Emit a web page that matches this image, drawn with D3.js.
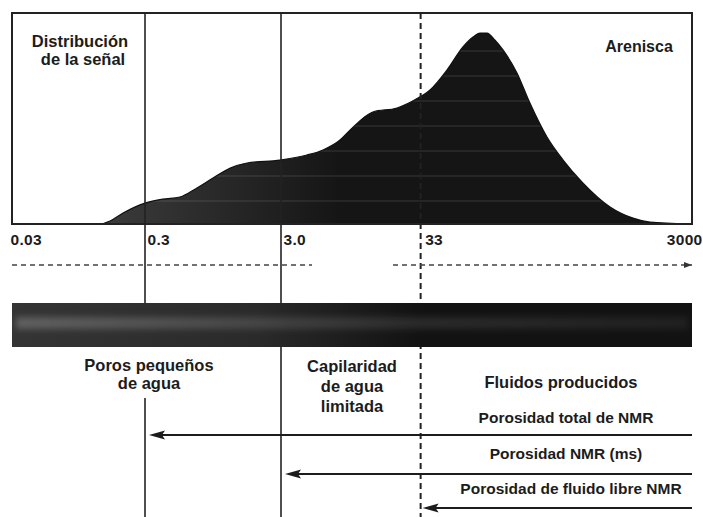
<!DOCTYPE html>
<html>
<head>
<meta charset="utf-8">
<script src="https://cdn.jsdelivr.net/npm/d3@7/dist/d3.min.js"></script>
<style>
  html, body { margin: 0; padding: 0; background: #fff; }
  svg { display: block; }
  text { font-family: "Liberation Sans", Arial, sans-serif; fill: #1c1c1c; }
</style>
</head>
<body>
<svg id="chart" width="703" height="517"></svg>
<script>
// T2 relaxation time (ms) and relative signal amplitude of the sandstone distribution
const t2Times = [0.145, 0.166, 0.207, 0.3, 0.407, 0.542, 0.723, 0.949, 1.27, 1.69, 2.95, 4.66, 6.11, 8.15, 9.65,
                 14.2, 21.4, 30.5, 37.4, 49.9, 65.3, 77.5, 87.1, 98.2, 112, 128.6, 163, 203, 271, 356, 499, 788, 1162, 1549, 3000];
const amplitudes = [0, 1.4, 5.2, 9.9, 11.8, 12.8, 17.1, 21.8, 26.5, 28.9, 30.3, 32.7, 35.1, 39.8, 44.5,
                    53.1, 55.0, 59.7, 63.5, 73.0, 83.9, 88.6, 90.5, 90.5, 87.2, 82.5, 71.6, 57.3, 41.2, 30.3, 19.4, 8.1, 2.8, 0.9, 0];

// Axis ticks
const tickValues = [0.03, 0.3, 3, 33, 3000];
const tickLabels = ["0.03", "0.3", "3.0", "33", "3000"];

// Cut-off times separating the pore classes
const cutoffs = [0.3, 3, 33];

// Zone labels under the bar
const zoneLabels = [
  ["Poros pequeños", "de agua"],
  ["Capilaridad", "de agua", "limitada"],
  ["Fluidos producidos"]
];

// Porosity ranges: name and shortest T2 covered (each runs to the end of the scale)
const porosityNames = ["Porosidad total de NMR", "Porosidad NMR (ms)", "Porosidad de fluido libre NMR"];
const porosityStart = [0.3, 3, 33];

const svg = d3.select("#chart");
const frame = { left: 12, right: 692, top: 13, bottom: 224 };

const x = d3.scaleLog().domain([0.03, 3000]).range([9, 689]);
const y = d3.scaleLinear().domain([0, 100]).range([frame.bottom, frame.top]);

const defs = svg.append("defs");

// fill of the distribution: greyer at short times, near black toward the peak
const ag = defs.append("linearGradient").attr("id", "areaGrad")
  .attr("gradientUnits", "userSpaceOnUse").attr("x1", 100).attr("x2", 340).attr("y1", 0).attr("y2", 0);
ag.append("stop").attr("offset", 0).attr("stop-color", "#3c3c3c");
ag.append("stop").attr("offset", 1).attr("stop-color", "#151515");

// bar: grey on the left fading into black
const bg = defs.append("linearGradient").attr("id", "barGrad")
  .attr("gradientUnits", "userSpaceOnUse").attr("x1", 12).attr("x2", 420).attr("y1", 0).attr("y2", 0);
bg.append("stop").attr("offset", 0).attr("stop-color", "#343434");
bg.append("stop").attr("offset", 0.6).attr("stop-color", "#2a2a2a");
bg.append("stop").attr("offset", 1).attr("stop-color", "#121212");

const bandG = defs.append("linearGradient").attr("id", "bandGrad")
  .attr("gradientUnits", "userSpaceOnUse").attr("x1", 12).attr("x2", 692).attr("y1", 0).attr("y2", 0);
bandG.append("stop").attr("offset", 0).attr("stop-color", "#fff").attr("stop-opacity", 0.22);
bandG.append("stop").attr("offset", 0.4).attr("stop-color", "#fff").attr("stop-opacity", 0.12);
bandG.append("stop").attr("offset", 1).attr("stop-color", "#fff").attr("stop-opacity", 0.06);

defs.append("filter").attr("id", "soft").attr("x", "-5%").attr("y", "-100%").attr("width", "110%").attr("height", "300%")
  .append("feGaussianBlur").attr("stdDeviation", 3);

// faint scan-like horizontal streaks
const pat = defs.append("pattern").attr("id", "streaks").attr("patternUnits", "userSpaceOnUse")
  .attr("width", 8).attr("height", 25);
pat.append("rect").attr("x", 0).attr("y", 0).attr("width", 8).attr("height", 2)
  .attr("fill", "#fff").attr("opacity", 0.07);

const smallHead = defs.append("marker").attr("id", "smallHead").attr("viewBox", "0 0 8 6")
  .attr("refX", 8).attr("refY", 3).attr("markerWidth", 8).attr("markerHeight", 6)
  .attr("markerUnits", "userSpaceOnUse").attr("orient", "auto");
smallHead.append("path").attr("d", "M0,0 L8,3 L0,6 Z").attr("fill", "#333");

// distribution area
const pts = t2Times.map((t, i) => [t, amplitudes[i]]);
const area = d3.area().x(d => x(d[0])).y0(y(0)).y1(d => y(d[1])).curve(d3.curveMonotoneX);
svg.append("path").datum(pts).attr("d", area).attr("fill", "url(#areaGrad)");
svg.append("path").datum(pts).attr("d", area).attr("fill", "url(#streaks)");
svg.append("path").datum(pts).attr("d", d3.line().x(d => x(d[0])).y(d => y(d[1])).curve(d3.curveMonotoneX))
  .attr("fill", "none").attr("stroke", "#111").attr("stroke-width", 1.2);

// frame
svg.append("rect").attr("x", frame.left).attr("y", frame.top)
  .attr("width", frame.right - frame.left).attr("height", frame.bottom - frame.top)
  .attr("fill", "none").attr("stroke", "#222").attr("stroke-width", 2);

// cut-off lines through the whole figure
const barTop = 303, barBottom = 347;
cutoffs.forEach((c, i) => {
  const cx = x(c) - (i === 2 ? 2 : 0);
  const segs = i === 0 ? [[frame.top, barBottom], [398, 517]] : [[frame.top, 517]];
  segs.forEach(s => {
    svg.append("line").attr("x1", cx).attr("x2", cx).attr("y1", s[0]).attr("y2", s[1])
      .attr("stroke", "#222").attr("stroke-width", i === 2 ? 2 : 1.6)
      .attr("stroke-dasharray", i === 2 ? "6,4" : null);
  });
});

// tick labels
const axis = d3.axisBottom(x).tickValues(tickValues).tickSize(0)
  .tickFormat((d, i) => tickLabels[i]);
const axG = svg.append("g").attr("transform", `translate(0,${frame.bottom})`).call(axis);
axG.select(".domain").remove();
axG.selectAll("text")
  .attr("y", 21).attr("dy", 0)
  .attr("text-anchor", (d, i) => i === tickValues.length - 1 ? "end" : "start")
  .attr("x", (d, i) => i === 0 ? 1 : i === tickValues.length - 1 ? 13 : 2)
  .style("font-family", "'Liberation Sans', Arial, sans-serif")
  .style("font-size", "15.5px").style("font-weight", "bold").style("fill", "#1c1c1c")
  .style("letter-spacing", "0.3px");

// dashed guide lines above the bar
svg.append("line").attr("x1", frame.left).attr("x2", 312).attr("y1", 265).attr("y2", 265)
  .attr("stroke", "#444").attr("stroke-width", 1.4).attr("stroke-dasharray", "5,4");
svg.append("line").attr("x1", 393).attr("x2", 692).attr("y1", 265).attr("y2", 265)
  .attr("stroke", "#444").attr("stroke-width", 1.4).attr("stroke-dasharray", "5,4")
  .attr("marker-end", "url(#smallHead)");

// bar
svg.append("rect").attr("x", frame.left).attr("y", barTop).attr("width", frame.right - frame.left)
  .attr("height", barBottom - barTop).attr("fill", "url(#barGrad)");
svg.append("rect").attr("x", frame.left + 4).attr("y", 317).attr("width", frame.right - frame.left - 8)
  .attr("height", 12).attr("fill", "url(#bandGrad)").attr("filter", "url(#soft)");

const labelFont = "16.5px";

// corner labels
svg.append("text").attr("x", 80).attr("y", 47).attr("text-anchor", "middle")
  .style("font-size", labelFont).style("font-weight", "bold").text("Distribución");
svg.append("text").attr("x", 83).attr("y", 65).attr("text-anchor", "middle")
  .style("font-size", labelFont).style("font-weight", "bold").text("de la señal");
svg.append("text").attr("x", 639).attr("y", 52).attr("text-anchor", "middle")
  .style("font-size", "16px").style("font-weight", "bold").text("Arenisca");

// zone labels
const zoneX = [149, 352, 561];
const zoneY = [[371, 389], [372, 392, 412], [388]];
zoneLabels.forEach((z, i) => {
  z.forEach((l, j) => {
    svg.append("text").attr("x", zoneX[i]).attr("y", zoneY[i][j]).attr("text-anchor", "middle")
      .style("font-size", labelFont).style("font-weight", "bold").text(l);
  });
});

// porosity ranges with their arrows
const nameY = [423, 459, 494];
const nameX = [566, 566, 571];
const arrowY = [435, 474, 508];
porosityNames.forEach((n, i) => {
  svg.append("text").attr("x", nameX[i]).attr("y", nameY[i]).attr("text-anchor", "middle")
    .style("font-size", "15.5px").style("font-weight", "bold").text(n);
  const tip = x(porosityStart[i]) + (i === 2 ? 0 : 4);
  svg.append("line").attr("x1", frame.right).attr("x2", tip + 4)
    .attr("y1", arrowY[i]).attr("y2", arrowY[i])
    .attr("stroke", "#1c1c1c").attr("stroke-width", 2);
  svg.append("path")
    .attr("d", `M${tip},${arrowY[i]} l16,-4.5 l-3,4.5 l3,4.5 Z`)
    .attr("fill", "#1c1c1c");
});
</script>
</body>
</html>
